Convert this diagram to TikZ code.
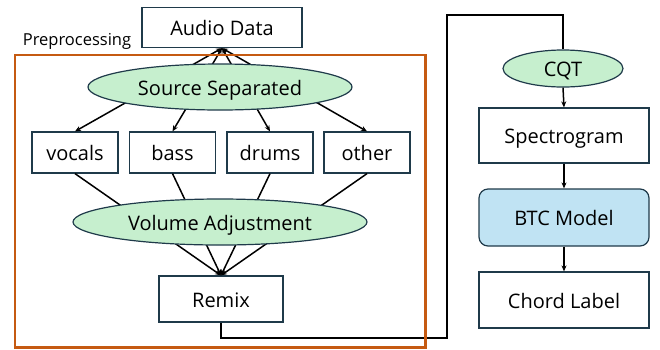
\documentclass[tikz,border=0pt]{standalone}
\usepackage{fontspec}
\setmainfont{Open Sans}
\usetikzlibrary{shapes.geometric,arrows.meta}
\definecolor{boxline}{HTML}{1F3A4A}
\definecolor{greenfill}{HTML}{C6EFCE}
\definecolor{bluefill}{HTML}{C0E3F3}
\definecolor{orangeline}{HTML}{C55A11}
\tikzset{
  lbl/.style={font=\fontsize{20}{24}\selectfont, text=black, inner sep=0pt, text height=16pt, text depth=0pt},
  plainbox/.style={lbl, draw=boxline, line width=1.2pt, fill=white, rectangle},
  ellnode/.style={lbl, draw=boxline, line width=1.2pt, fill=greenfill, ellipse},
  conn/.style={draw=black, line width=1.5pt},
  arr/.style={conn, -{Stealth[length=6pt,width=5pt]}},
  arrboth/.style={conn, {Stealth[length=6pt,width=5pt]}-{Stealth[length=6pt,width=5pt]}}
}
\begin{document}
\begin{tikzpicture}[x=1pt,y=-1pt]
\useasboundingbox (0,0) rectangle (660,349);

% nodes
\node[plainbox, minimum width=160pt, minimum height=40pt] (audio) at (222,27.5) {Audio Data};
\node[font=\fontsize{16.5}{20}\selectfont, inner sep=0pt, anchor=base] (pre) at (77,45) {Preprocessing};

\node[plainbox, minimum width=86pt, minimum height=41pt] (vocals) at (75,152.5) {vocals};
\node[plainbox, minimum width=86pt, minimum height=41pt] (bass) at (172.5,152.5) {bass};
\node[plainbox, minimum width=86pt, minimum height=41pt] (drums) at (270,152.5) {drums};
\node[plainbox, minimum width=86pt, minimum height=41pt] (other) at (367,152.5) {other};

\node[plainbox, minimum width=124pt, minimum height=46pt] (remix) at (221,299) {Remix};

% connectors behind ellipses
\foreach \b in {vocals,bass,drums,other}{
  \draw[arrboth] (audio.south) -- (\b.north);
  \draw[arr] (\b.south) -- (remix.north);
}

\node[ellnode, minimum width=264pt, minimum height=46pt] (sep) at (220,87) {Source Separated};
\node[ellnode, minimum width=294pt, minimum height=46pt] (vol) at (220,222) {Volume Adjustment};

% right column
\node[ellnode, minimum width=120pt, minimum height=37pt] (cqt) at (563,68.5) {CQT};
\node[plainbox, minimum width=170pt, minimum height=55pt] (spec) at (564,135.5) {Spectrogram};
\node[plainbox, fill=bluefill, rounded corners=9pt, minimum width=170pt, minimum height=57pt] (btc) at (564,217.5) {BTC Model};
\node[plainbox, minimum width=170pt, minimum height=56pt] (chord) at (564,300) {Chord Label};

\coordinate (c1) at (447,338);
\coordinate (c2) at (447,15);
\draw[conn] (remix.south) |- (c1) -- (c2) -| (cqt.north);
\draw[arr] (cqt.south) -- (spec.north);
\draw[arr] (spec.south) -- (btc.north);
\draw[arr] (btc.south) -- (chord.north);

% preprocessing frame
\draw[orangeline, line width=2.5pt] (15,55) rectangle (425.5,347.5);
\end{tikzpicture}
\end{document}
